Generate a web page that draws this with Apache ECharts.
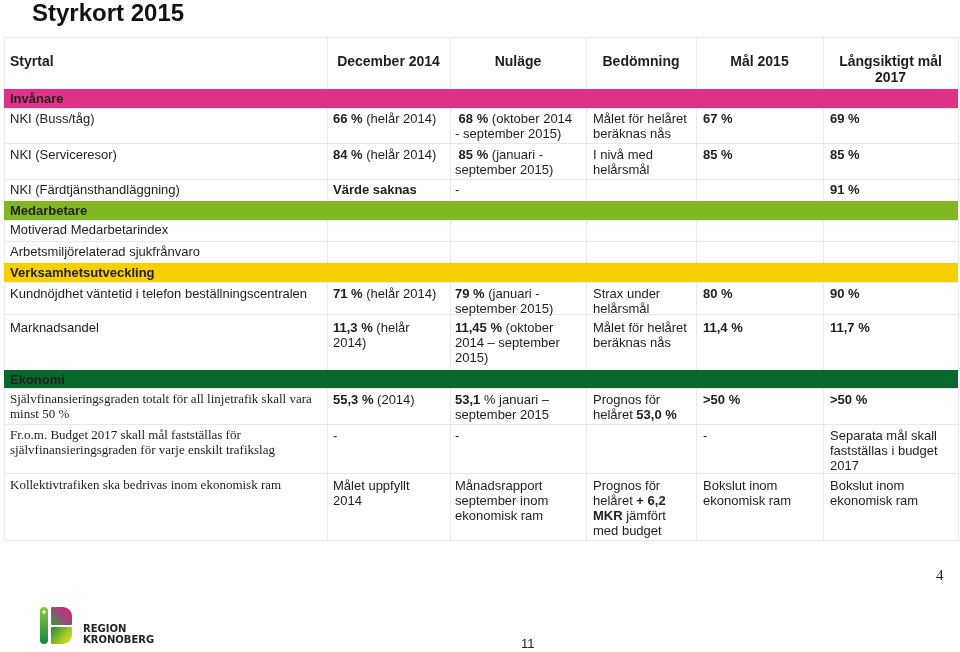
<!DOCTYPE html>
<html>
<head>
<meta charset="utf-8">
<script src="https://cdn.jsdelivr.net/npm/echarts@6/dist/echarts.min.js"></script>
<style>html,body{margin:0;padding:0;background:#fff}#c{width:960px;height:652px}</style>
</head>
<body>
<div id="c"></div>
<script>
// ---------- DATA ----------
const titleText = 'Styrkort 2015';
const headers = ['Styrtal', 'December 2014', 'Nuläge', 'Bedömning', 'Mål 2015', 'Långsiktigt mål\n2017'];
const sections = ['Invånare', 'Medarbetare', 'Verksamhetsutveckling', 'Ekonomi'];
const sectionRows = [[0, 1, 2], [3, 4], [5, 6], [7, 8, 9]];
const indicators = [
  'NKI (Buss/tåg)',
  'NKI (Serviceresor)',
  'NKI (Färdtjänsthandläggning)',
  'Motiverad Medarbetarindex',
  'Arbetsmiljörelaterad sjukfrånvaro',
  'Kundnöjdhet väntetid i telefon beställningscentralen',
  'Marknadsandel',
  'Självfinansieringsgraden totalt för all linjetrafik skall vara\nminst 50 %',
  'Fr.o.m. Budget 2017 skall mål fastställas för\nsjälvfinansieringsgraden för varje enskilt trafikslag',
  'Kollektivtrafiken ska bedrivas inom ekonomisk ram'
];
const serifIndicator = [false, false, false, false, false, false, false, true, true, true];
const december2014 = [
  '{b|66 %} (helår 2014)',
  '{b|84 %} (helår 2014)',
  '{b|Värde saknas}',
  '', '',
  '{b|71 %} (helår 2014)',
  '{b|11,3 %} (helår\n2014)',
  '{b|55,3 %} (2014)',
  '-',
  'Målet uppfyllt\n2014'
];
const nulage = [
  ' {b|68 %} (oktober 2014\n- september 2015)',
  ' {b|85 %} (januari -\nseptember 2015)',
  '-',
  '', '',
  '{b|79 %} (januari -\nseptember 2015)',
  '{b|11,45 %} (oktober\n2014 – september\n2015)',
  '{b|53,1} % januari –\nseptember 2015',
  '-',
  'Månadsrapport\nseptember inom\nekonomisk ram'
];
const bedomning = [
  'Målet för helåret\nberäknas nås',
  'I nivå med\nhelårsmål',
  '',
  '', '',
  'Strax under\nhelårsmål',
  'Målet för helåret\nberäknas nås',
  'Prognos för\nhelåret {b|53,0 %}',
  '',
  'Prognos för\nhelåret {b|+ 6,2}\n{b|MKR} jämfört\nmed budget'
];
const mal2015 = [
  '{b|67 %}', '{b|85 %}', '', '', '', '{b|80 %}', '{b|11,4 %}', '{b|>50 %}', '-',
  'Bokslut inom\nekonomisk ram'
];
const langsiktigt2017 = [
  '{b|69 %}', '{b|85 %}', '{b|91 %}', '', '', '{b|90 %}', '{b|11,7 %}', '{b|>50 %}',
  'Separata mål skall\nfastställas i budget\n2017',
  'Bokslut inom\nekonomisk ram'
];
const pageNumber = '4';
const slideNumber = '11';

// ---------- LAYOUT ----------
const colEdges = [4, 327, 450, 586, 696, 823, 958];
const colPad = [6, 6, 5, 7, 7, 7];
const tableTop = 37;
const headerH = 52;
const bandH = [19, 19, 19, 18];
const rowH = [35, 36, 22, 21, 22, 32, 56, 36, 49, 67];
const rowPad = [4, 4.5, 3.5, 2.5, 3.5, 4.5, 7, 4.5, 4.5, 5.5];
const bandColors = ['#DF3287', '#80B723', '#F8D000', '#08692F'];
const lineColor = '#e9e9e9';
const textColor = '#1e1e1e';
const SANS = '"Liberation Sans", Arial, sans-serif';
const SERIF = '"Liberation Serif", "Times New Roman", serif';

const columns = [indicators, december2014, nulage, bedomning, mal2015, langsiktigt2017];

// build sequence of layout entries
const layout = [];
let y = tableTop;
layout.push({ kind: 'header', top: y, h: headerH }); y += headerH;
sections.forEach((s, si) => {
  layout.push({ kind: 'band', sec: si, top: y, h: bandH[si] }); y += bandH[si];
  sectionRows[si].forEach(r => {
    layout.push({ kind: 'row', row: r, top: y, h: rowH[r] }); y += rowH[r];
  });
});

// data items for the custom series: [layoutIndex, colIndex]
const cellData = [];
layout.forEach((L, li) => {
  if (L.kind === 'band') cellData.push([li, 0]);
  else for (let c = 0; c < 6; c++) cellData.push([li, c]);
});

function richFor(fam, size) {
  return {
    b: { fontFamily: fam, fontSize: size, fontWeight: 'bold', lineHeight: 15, fill: textColor }
  };
}

function cellBox(api, li, ci) {
  const L = layout[li];
  const x0 = L.kind === 'band' ? colEdges[0] : colEdges[ci];
  const x1 = L.kind === 'band' ? colEdges[6] : colEdges[ci + 1];
  const p0 = api.coord([x0, L.top]);
  const p1 = api.coord([x1, L.top + L.h]);
  return { L, p0, p1 };
}

// cell backgrounds and grid lines
function renderCells(params, api) {
  const li = api.value(0), ci = api.value(1);
  const { L, p0, p1 } = cellBox(api, li, ci);
  if (L.kind === 'band') {
    return { type: 'rect', shape: { x: p0[0], y: p0[1], width: p1[0] - p0[0], height: p1[1] - p0[1] },
             style: { fill: bandColors[L.sec] } };
  }
  return { type: 'rect',
    shape: { x: p0[0] + 0.5, y: p0[1] + 0.5, width: p1[0] - p0[0], height: p1[1] - p0[1] },
    style: { fill: 'none', stroke: lineColor, lineWidth: 1 } };
}

// cell texts
function renderTexts(params, api) {
  const li = api.value(0), ci = api.value(1);
  const { L, p0, p1 } = cellBox(api, li, ci);
  if (L.kind === 'band') {
    return { type: 'text', x: p0[0] + 6, y: (p0[1] + p1[1]) / 2 + 1,
      style: { text: sections[L.sec], fontFamily: SANS, fontSize: 13, fontWeight: 'bold',
               fill: '#222', verticalAlign: 'middle', align: 'left' } };
  }
  if (L.kind === 'header') {
    const center = ci > 0;
    return { type: 'text',
      x: center ? (p0[0] + p1[0]) / 2 : p0[0] + colPad[0],
      y: p0[1] + 17,
      style: { text: headers[ci], fontFamily: SANS, fontSize: 14, fontWeight: 'bold', fill: textColor,
               align: center ? 'center' : 'left', verticalAlign: 'top', lineHeight: 16 } };
  }
  const r = L.row;
  const serif = ci === 0 && serifIndicator[r];
  const fam = serif ? SERIF : SANS;
  const size = 13;
  return { type: 'text',
    x: p0[0] + colPad[ci],
    y: p0[1] + rowPad[r],
    style: { text: columns[ci][r], fontFamily: fam, fontSize: size, fill: textColor,
             align: 'left', verticalAlign: 'top', lineHeight: 15, rich: richFor(fam, size) } };
}

const chart = echarts.init(document.getElementById('c'), null, { renderer: 'canvas' });
chart.setOption({
  animation: false,
  backgroundColor: '#fff',
  title: {
    text: titleText, left: 32, top: 2, padding: 0,
    textStyle: { fontFamily: SANS, fontSize: 24, fontWeight: 'bold', color: '#111' }
  },
  grid: { left: 0, right: 0, top: 0, bottom: 0 },
  xAxis: { type: 'value', min: 0, max: 960, show: false },
  yAxis: { type: 'value', min: 0, max: 652, inverse: true, show: false },
  series: [{
    type: 'custom',
    coordinateSystem: 'cartesian2d',
    silent: true,
    clip: false,
    renderItem: renderCells,
    data: cellData,
    z: 1
  }, {
    type: 'custom',
    coordinateSystem: 'cartesian2d',
    silent: true,
    clip: false,
    renderItem: renderTexts,
    data: cellData,
    z: 2
  }],
  graphic: [
    { type: 'text', left: 936, top: 569,
      style: { text: pageNumber, fontFamily: SERIF, fontSize: 15, fill: '#222' } },
    { type: 'text', left: 521, top: 638,
      style: { text: slideNumber, fontFamily: SANS, fontSize: 13, fill: '#222' } },
    // logo
    { type: 'group', left: 40, top: 607, children: [
      { type: 'rect', shape: { x: 0, y: 0, width: 8, height: 37, r: 4 },
        style: { fill: new echarts.graphic.LinearGradient(0, 0, 0, 1, [
          { offset: 0, color: '#8CC63F' }, { offset: 1, color: '#128A3C' }]) } },
      { type: 'circle', shape: { cx: 4, cy: 5, r: 1.8 }, style: { fill: '#fff' } },
      { type: 'rect', shape: { x: 11, y: 0, width: 21, height: 18, r: [1, 9, 1, 1] },
        style: { fill: new echarts.graphic.LinearGradient(0, 1, 1, 0, [
          { offset: 0, color: '#3B9B3D' }, { offset: 0.5, color: '#9A4A7A' }, { offset: 1, color: '#E0197C' }]) } },
      { type: 'rect', shape: { x: 11, y: 20, width: 21, height: 17, r: [1, 1, 9, 1] },
        style: { fill: new echarts.graphic.LinearGradient(0, 0, 1, 1, [
          { offset: 0, color: '#1E8C3A' }, { offset: 0.6, color: '#A6C824' }, { offset: 1, color: '#F1E21A' }]) } },
      { type: 'text', x: 43, y: 17,
        style: { text: 'REGION', fontFamily: '"DejaVu Sans", sans-serif', fontSize: 10,
                 fontWeight: 'bold', fill: '#222' } },
      { type: 'text', x: 43, y: 28,
        style: { text: 'KRONOBERG', fontFamily: '"DejaVu Sans", sans-serif', fontSize: 10,
                 fontWeight: 'bold', fill: '#222' } }
    ]}
  ]
});
</script>
</body>
</html>
